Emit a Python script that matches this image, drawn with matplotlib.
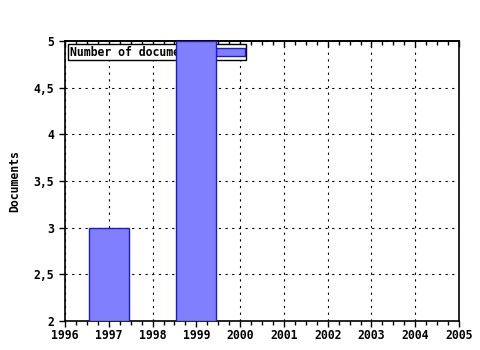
import numpy as np
import matplotlib
matplotlib.use("Agg")
import matplotlib.pyplot as plt
from matplotlib.ticker import MultipleLocator, FuncFormatter

years = [1997, 1999]
documents = [3, 5]
year_ticks = list(range(1996, 2006))
series_label = "Number of documents"

plt.rcParams['font.family'] = ['DejaVu Sans Mono']
plt.rcParams['font.weight'] = 'bold'
plt.rcParams['font.size'] = 8.3

fig = plt.figure(figsize=(4.8, 3.5), dpi=100)
ax = fig.add_axes([65/480, 29/350, 394/480, 280/350])
ax.set_axisbelow(True)

bars = ax.bar(years, np.array(documents) - 2, bottom=2, width=0.91,
              color="#8080ff", edgecolor="#1a1acc", linewidth=1,
              label=series_label, zorder=3)

ax.set_xlim(1996, 2005)
ax.set_ylim(2, 5)
ax.set_xticks(year_ticks)
ax.xaxis.set_minor_locator(MultipleLocator(0.25))
ax.yaxis.set_major_locator(MultipleLocator(0.5))
ax.yaxis.set_major_formatter(FuncFormatter(
    lambda v, p: ("%g" % v).replace(".", ",")))

ax.grid(True, which="major", color="black", linestyle=(0, (2, 4)), linewidth=0.8)
for s in ax.spines.values():
    s.set_linewidth(1.2)
ax.tick_params(axis="x", which="both", direction="out", length=4, width=1, pad=2)
ax.tick_params(axis="x", which="minor", length=3)
ax.tick_params(axis="y", which="major", direction="out", length=4, width=1, pad=4)
ax.set_ylabel("Documents", labelpad=9, fontweight="bold")

# top axis: ticks pointing into the plot, no labels
top = ax.secondary_xaxis("top")
top.set_xticks(year_ticks)
top.xaxis.set_minor_locator(MultipleLocator(0.25))
top.tick_params(axis="x", which="both", direction="in", length=4, width=1,
                labeltop=False)
top.tick_params(axis="x", which="minor", length=3)
top.spines["top"].set_linewidth(1.2)

leg = ax.legend(loc="upper left", bbox_to_anchor=(0.0, 1.0), markerfirst=False,
                frameon=True, fancybox=False, edgecolor="black", framealpha=1,
                borderpad=0.1, handlelength=2.5, handleheight=0.7,
                handletextpad=1.4, borderaxespad=0.3)
leg.get_frame().set_linewidth(1)
leg.set_zorder(2)

fig.savefig("out.png", dpi=100)
